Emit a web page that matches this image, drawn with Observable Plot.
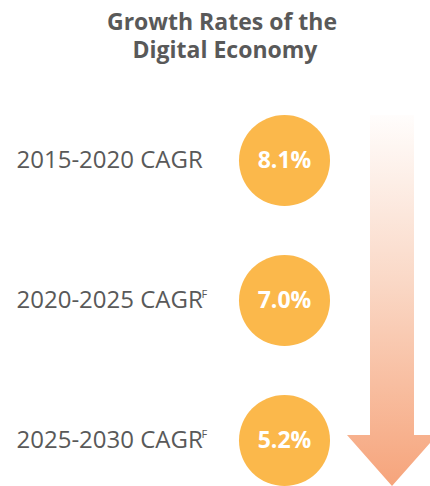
<!DOCTYPE html>
<html>
<head>
<meta charset="utf-8">
<script src="https://cdn.jsdelivr.net/npm/d3@7"></script>
<script src="https://cdn.jsdelivr.net/npm/@observablehq/plot@0.6"></script>
<style>
  html, body { margin: 0; padding: 0; background: #fff; }
  #wrap { width: 430px; height: 486px; overflow: hidden; position: relative; }
  #title { font-family: "Open Sans", sans-serif; font-weight: 700; font-size: 23px; line-height: 28px;
           color: #595959; text-align: center; width: 430px; padding-left: 14px; box-sizing: border-box;
           padding-top: 7px; height: 80px; }
  svg { display: block; }
</style>
</head>
<body>
<div id="wrap">
  <div id="title">Growth Rates of the<br>&nbsp;Digital Economy</div>
  <div id="chart"></div>
</div>
<script>
const periods = ["2015-2020", "2020-2025", "2025-2030"];
const metric = "CAGR";
const forecastMark = ["", "F", "F"];
const rates = [8.1, 7.0, 5.2];

const data = periods.map((p, i) => ({period: p, rate: rates[i], sup: forecastMark[i]}));

const W = 430, H = 406;
const LABEL_X = 16, CIRCLE_X = 284, ARROW_X = 392;

function arrowMark(index, scales, values, dimensions) {
  const cx = ARROW_X;
  const yTop = scales.y(periods[0]) - 45;
  const yHead = scales.y(periods[periods.length - 1]) - 5;
  const yTip = dimensions.height;
  const sw = 22, hw = 45;
  const ns = "http://www.w3.org/2000/svg";
  const g = document.createElementNS(ns, "g");
  const defs = document.createElementNS(ns, "defs");
  const lg = document.createElementNS(ns, "linearGradient");
  lg.setAttribute("id", "arrowGrad");
  lg.setAttribute("gradientUnits", "userSpaceOnUse");
  lg.setAttribute("x1", 0); lg.setAttribute("x2", 0);
  lg.setAttribute("y1", yTop); lg.setAttribute("y2", yTip);
  [["0", "#fffdfc"], ["0.45", "#fad8c6"], ["1", "#f6a47b"]].forEach(([o, c]) => {
    const s = document.createElementNS(ns, "stop");
    s.setAttribute("offset", o); s.setAttribute("stop-color", c);
    lg.appendChild(s);
  });
  defs.appendChild(lg);
  g.appendChild(defs);
  const path = document.createElementNS(ns, "path");
  const d = `M${cx - sw},${yTop}H${cx + sw}V${yHead}H${cx + hw}L${cx},${yTip}L${cx - hw},${yHead}H${cx - sw}Z`;
  path.setAttribute("d", d);
  path.setAttribute("fill", "url(#arrowGrad)");
  g.appendChild(path);
  return g;
}

const chart = Plot.plot({
  width: W,
  height: H,
  margin: 0,
  y: {type: "point", domain: periods, range: [79.5, 360], padding: 0, axis: null},
  marks: [
    arrowMark,
    Plot.dot(data, {y: "period", frameAnchor: "left", dx: CIRCLE_X, r: 45.5, fill: "#fbb84b", stroke: "none"}),
    Plot.text(data, {
      y: "period", frameAnchor: "left", dx: CIRCLE_X,
      text: d => d.rate.toFixed(1) + "%",
      fill: "#ffffff", fontSize: 23, fontWeight: 700, fontFamily: "Open Sans",
      textAnchor: "middle"
    }),
    Plot.text(data, {
      y: "period", frameAnchor: "left", dx: LABEL_X,
      text: d => d.period + " " + metric,
      fill: "#595959", fontSize: 24, fontFamily: "Open Sans",
      textAnchor: "start"
    }),
    Plot.text(data.filter(d => d.sup), {
      y: "period", frameAnchor: "left", dx: LABEL_X + 185, dy: -6,
      text: "sup",
      fill: "#595959", fontSize: 11, fontFamily: "Open Sans",
      textAnchor: "start"
    })
  ]
});
document.getElementById("chart").appendChild(chart);
</script>
</body>
</html>
